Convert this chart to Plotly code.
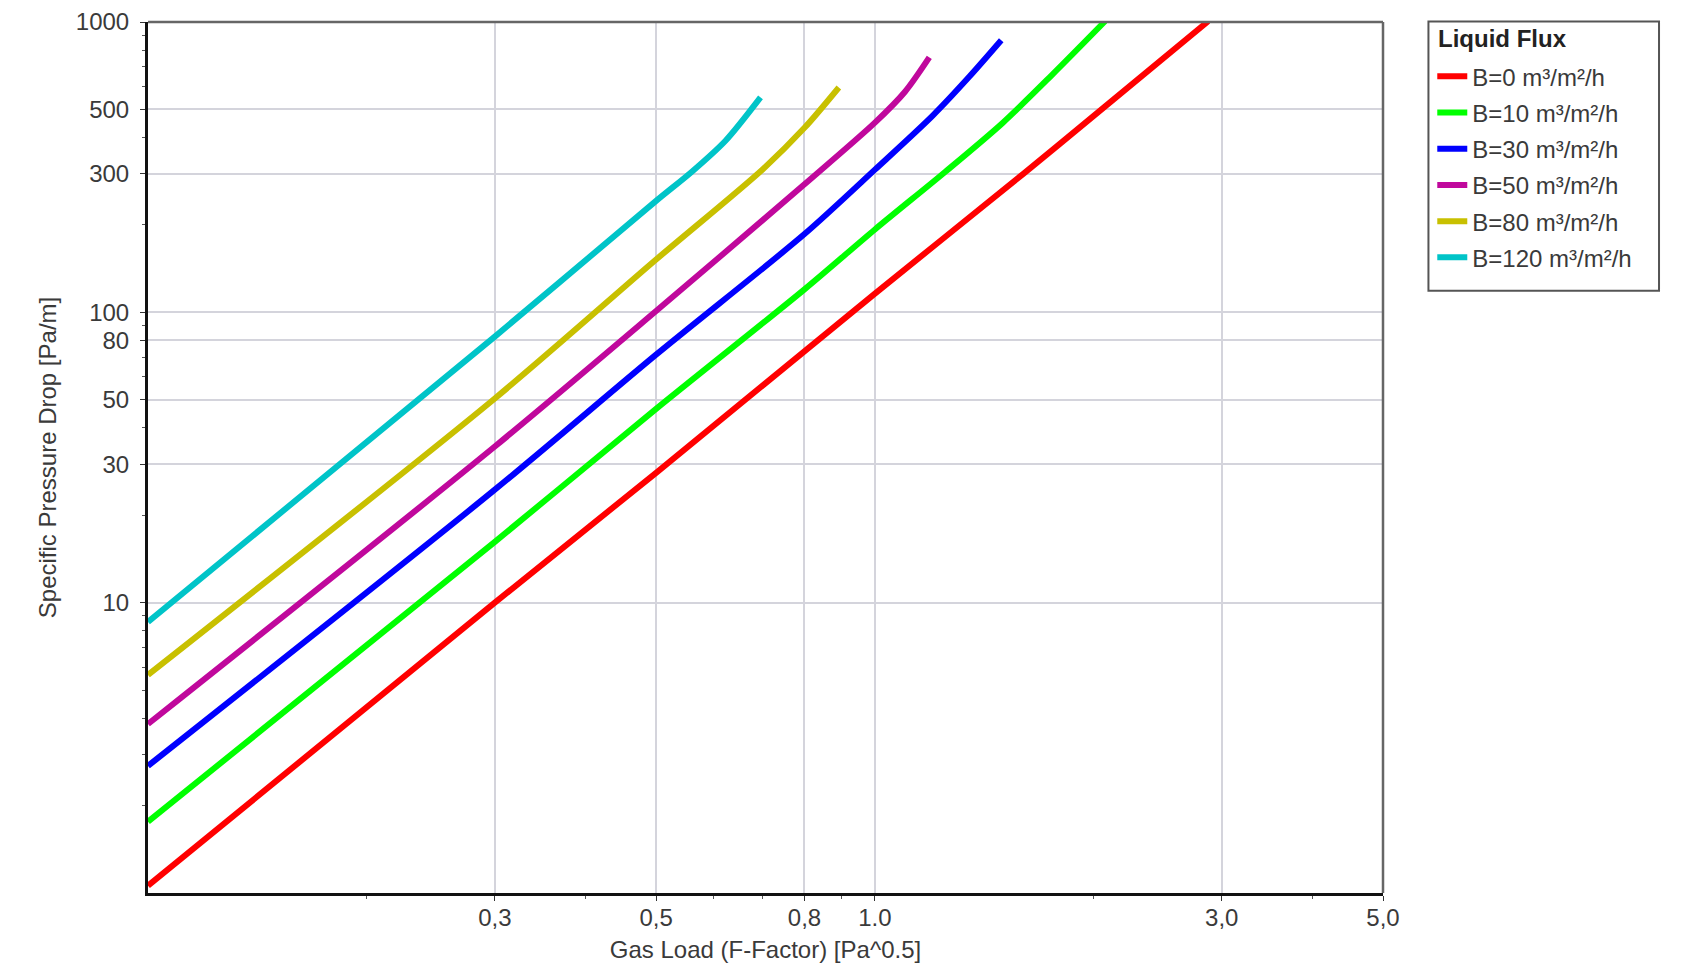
import plotly.graph_objects as go

# ---- data (Gas Load F-factor vs specific pressure drop) ----
series_names = ["B=0 m³/m²/h", "B=10 m³/m²/h", "B=30 m³/m²/h",
                "B=50 m³/m²/h", "B=80 m³/m²/h", "B=120 m³/m²/h"]
series_colors = ["#FF0000", "#00FF00", "#0000FF", "#C0089C", "#C8C000", "#00C4C8"]

x_b0 = [0.1, 0.3, 0.5, 1.0, 1.6, 2.07, 2.874]
y_b0 = [1.06, 10.0, 28.0, 116, 300, 510, 1006]

x_b10 = [0.1, 0.3, 0.5, 0.8, 1.0, 1.25, 1.5, 1.75, 2.073]
y_b10 = [1.76, 16.2, 46.5, 120, 193, 305, 450, 655, 1006]

x_b30 = [0.1, 0.3, 0.5, 0.8, 1.0, 1.2, 1.35, 1.492]
y_b30 = [2.74, 24.5, 71.5, 186, 310, 475, 650, 865]

x_b50 = [0.1, 0.3, 0.5, 0.8, 1.0, 1.1, 1.188]
y_b50 = [3.82, 34.5, 101, 276, 450, 575, 755]

x_b80 = [0.1, 0.3, 0.5, 0.7, 0.8, 0.892]
y_b80 = [5.64, 50.5, 152, 310, 432, 595]

x_b120 = [0.1, 0.3, 0.5, 0.56, 0.623, 0.696]
y_b120 = [8.58, 82.5, 242, 305, 390, 550]

xs = [x_b0, x_b10, x_b30, x_b50, x_b80, x_b120]
ys = [y_b0, y_b10, y_b30, y_b50, y_b80, y_b120]

legend_title = "Liquid Flux"
x_tickvals = [0.3, 0.5, 0.8, 1.0, 3.0, 5.0]
x_ticktext = ["0,3", "0,5", "0,8", "1.0", "3,0", "5,0"]
y_tickvals = [10, 30, 50, 80, 100, 300, 500, 1000]
y_ticktext = ["10", "30", "50", "80", "100", "300", "500", "1000"]
x_minor = [0.2, 0.4, 0.6, 0.7, 0.9, 2, 4]
y_minor = [2, 3, 4, 5, 6, 7, 8, 9, 20, 40, 60, 70, 90, 200, 400, 600, 700, 800, 900]

FONT = "Liberation Sans, Arial, sans-serif"
TXT = "#3a3a3a"
FS = 24

fig = go.Figure()
for i, (name, color, x, y) in enumerate(zip(series_names, series_colors, xs, ys)):
    fig.add_trace(go.Scatter(
        x=x, y=y, name=name, mode="lines", legendgroup=f"g{i}",
        line=dict(color=color, width=6, shape="spline", smoothing=0.8),
    ))

fig.update_layout(
    width=1688, height=972,
    margin=dict(l=140, r=313, t=14, b=87, autoexpand=False),
    paper_bgcolor="white", plot_bgcolor="white",
    font=dict(family=FONT, size=FS, color=TXT),
    showlegend=True,
    legend=dict(
        x=1.0399, xanchor="left", y=0.963, yanchor="top",
        bgcolor="rgba(0,0,0,0)", borderwidth=0,
        font=dict(family=FONT, size=FS, color=TXT),
        itemwidth=30, tracegroupgap=2,
    ),
    xaxis=dict(
        type="log", range=[-1, 0.69897], automargin=False,
        tickmode="array", tickvals=x_tickvals, ticktext=x_ticktext,
        showgrid=True, gridcolor="#D4D4DC", gridwidth=2,
        showline=True, linecolor="#111111", linewidth=3,
        ticks="outside", ticklen=5, tickcolor="#333333", tickwidth=1,
        ticklabelstandoff=-4,
        minor=dict(tickmode="array", tickvals=x_minor, ticks="outside", ticklen=3,
                   tickcolor="#555555", showgrid=False),
        zeroline=False,
        tickfont=dict(family=FONT, size=FS, color=TXT),
        title=dict(text="Gas Load (F-Factor) [Pa^0.5]", standoff=12,
                   font=dict(family=FONT, size=FS, color=TXT)),
    ),
    yaxis=dict(
        type="log", range=[0, 3], automargin=False,
        tickmode="array", tickvals=y_tickvals, ticktext=y_ticktext,
        showgrid=True, gridcolor="#D4D4DC", gridwidth=2,
        showline=True, linecolor="#111111", linewidth=3,
        ticks="outside", ticklen=5, tickcolor="#333333", tickwidth=1,
        ticklabelstandoff=6,
        minor=dict(tickmode="array", tickvals=y_minor, ticks="outside", ticklen=3,
                   tickcolor="#555555", showgrid=False),
        zeroline=False,
        tickfont=dict(family=FONT, size=FS, color=TXT),
        title=dict(text="Specific Pressure Drop [Pa/m]", standoff=13,
                   font=dict(family=FONT, size=FS, color=TXT)),
    ),
)

# thin grey frame on the top and right sides
fig.add_shape(type="line", xref="paper", yref="paper", x0=0, x1=1, y0=1, y1=1,
              line=dict(color="#666666", width=2.5), layer="above")
fig.add_shape(type="line", xref="paper", yref="paper", x0=1, x1=1, y0=0, y1=1,
              line=dict(color="#666666", width=2.5), layer="above")

# legend frame and title
fig.add_shape(type="rect", xref="paper", yref="paper",
              x0=1.0368, x1=1.2235, y0=0.6915, y1=1.0006,
              line=dict(color="#555555", width=2), fillcolor="rgba(0,0,0,0)", layer="above")
fig.add_annotation(xref="paper", yref="paper", x=1.0429, y=0.9808,
                   xanchor="left", yanchor="middle", showarrow=False,
                   text=f"<b>{legend_title}</b>",
                   font=dict(family=FONT, size=FS, color="#222222"))

fig.write_html("out.html")
